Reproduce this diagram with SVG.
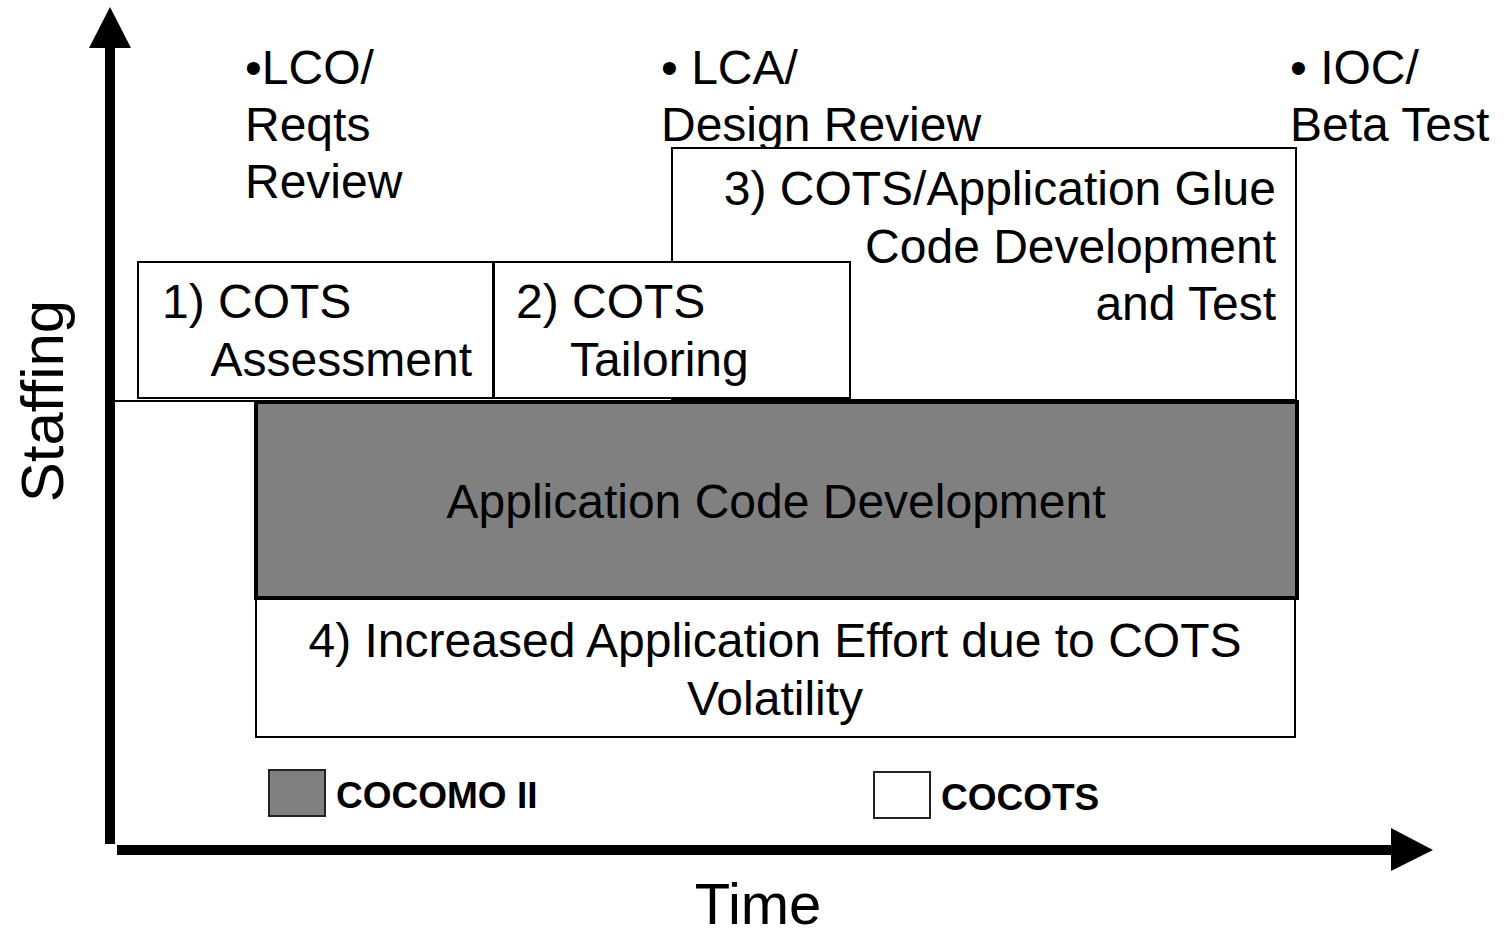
<svg xmlns="http://www.w3.org/2000/svg" width="1506" height="936" viewBox="0 0 1506 936">
<style>
text{font-family:"Liberation Sans",Arial,sans-serif;fill:#000}
.t{font-size:48px}
.b{font-size:37px;font-weight:bold}
.box{fill:#fff;stroke:#000;stroke-width:2}
</style>
<rect width="1506" height="936" fill="#fff"/>
<g id="connectors">
<line x1="110" y1="46" x2="110" y2="844" stroke="#000" stroke-width="10"/>
<polygon points="89,48 110,7 131,48" fill="#000"/>
<line x1="117" y1="850" x2="1393" y2="850" stroke="#000" stroke-width="10"/>
<polygon points="1391,828 1433,850 1391,871" fill="#000"/>
<line x1="115" y1="401" x2="256" y2="401" stroke="#000" stroke-width="2"/>
</g>
<g id="staffing-label"><text x="63" y="401" font-size="60" text-anchor="middle" transform="rotate(-90 63 401)">Staffing</text></g>
<g id="time-label"><text x="758" y="924" font-size="58" text-anchor="middle">Time</text></g>
<g id="milestone-lco"><text class="t" x="245" y="84">•LCO/</text><text class="t" x="245" y="141">Reqts</text><text class="t" x="245" y="198">Review</text></g>
<g id="milestone-lca"><text class="t" x="661" y="84">• LCA/</text><text class="t" x="661" y="141">Design Review</text></g>
<g id="milestone-ioc"><text class="t" x="1290" y="84">• IOC/</text><text class="t" x="1290" y="141">Beta Test</text></g>
<g id="glue-code">
<rect class="box" x="672" y="148" width="624" height="252"/>
<text class="t" x="1276" y="205" text-anchor="end">3) COTS/Application Glue</text>
<text class="t" x="1276" y="263" text-anchor="end">Code Development</text>
<text class="t" x="1276" y="320" text-anchor="end">and Test</text>
</g>
<g id="assessment">
<rect class="box" x="138" y="262" width="355" height="136"/>
<text class="t" x="162" y="318">1) COTS</text>
<text class="t" x="472" y="376" text-anchor="end">Assessment</text>
</g>
<g id="tailoring">
<rect class="box" x="494" y="262" width="356" height="136"/>
<text class="t" x="516" y="318">2) COTS</text>
<text class="t" x="570" y="376">Tailoring</text>
</g>
<g id="volatility">
<rect class="box" x="256" y="599" width="1039" height="138"/>
<text class="t" x="775" y="657" text-anchor="middle">4) Increased Application Effort due to COTS</text>
<text class="t" x="775" y="715" text-anchor="middle">Volatility</text>
</g>
<g id="app-code">
<rect x="256" y="402" width="1041" height="196" fill="#808080" stroke="#000" stroke-width="4"/>
<text class="t" x="776" y="518" text-anchor="middle">Application Code Development</text>
</g>
<g id="legend-cocomo">
<rect x="269" y="770" width="56" height="46" fill="#808080" stroke="#222" stroke-width="2"/>
<text class="b" x="336" y="808">COCOMO II</text>
</g>
<g id="legend-cocots">
<rect x="874" y="772" width="56" height="46" fill="#fff" stroke="#222" stroke-width="2"/>
<text class="b" x="941" y="810">COCOTS</text>
</g>
</svg>
